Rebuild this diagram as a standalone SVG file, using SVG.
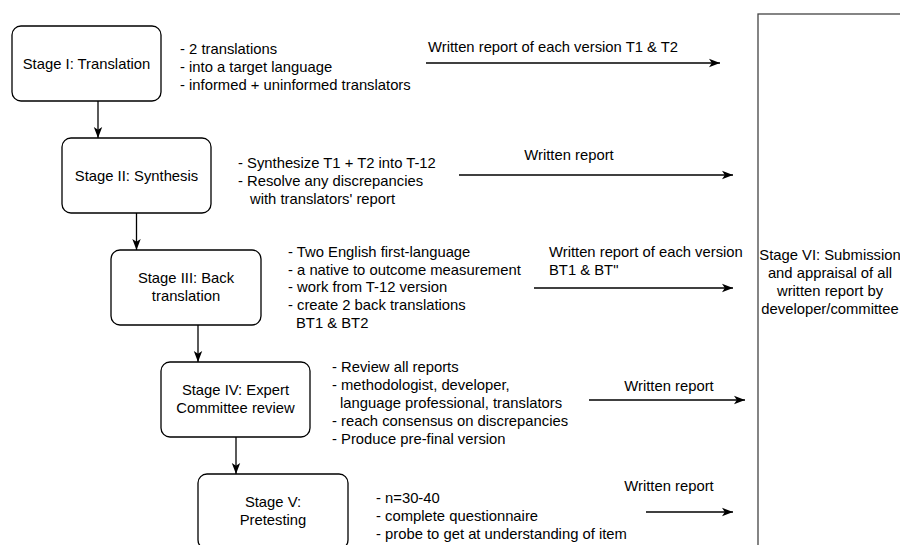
<svg xmlns="http://www.w3.org/2000/svg" width="900" height="545" viewBox="0 0 900 545">
<defs>
<marker id="ah" markerUnits="userSpaceOnUse" markerWidth="12" markerHeight="10" refX="11" refY="5" orient="auto">
<path d="M0,0.8 L11,5 L0,9.2 L2.8,5 Z" fill="#000"/>
</marker>
<style>
text{font-family:"Liberation Sans",Arial,sans-serif;font-size:14.8px;fill:#000}
.c{text-anchor:middle}
.box{fill:#fff;stroke:#000;stroke-width:1.3}
.con line{stroke:#000;stroke-width:1.3;marker-end:url(#ah)}
</style>
</defs>
<rect width="900" height="545" fill="#fff"/>
<g id="stage6">
<rect x="758" y="14" width="150" height="545" fill="#fff" stroke="#444" stroke-width="1.3"/>
<text class="c" x="830" y="260">Stage VI: Submission</text>
<text class="c" x="830" y="278">and appraisal of all</text>
<text class="c" x="830" y="296">written report by</text>
<text class="c" x="830" y="314">developer/committee</text>
</g>
<g id="stage1">
<rect class="box" x="12" y="26" width="149" height="75" rx="9"/>
<text class="c" x="86.5" y="69">Stage I: Translation</text>
</g>
<g id="notes1">
<text x="180" y="54">- 2 translations</text>
<text x="180" y="72">- into a target language</text>
<text x="180" y="90">- informed + uninformed translators</text>
</g>
<g id="stage2">
<rect class="box" x="62" y="138" width="149" height="75" rx="9"/>
<text class="c" x="136.5" y="181">Stage II: Synthesis</text>
</g>
<g id="notes2">
<text x="238" y="168">- Synthesize T1 + T2 into T-12</text>
<text x="238" y="186">- Resolve any discrepancies</text>
<text x="250" y="204">with translators' report</text>
</g>
<g id="stage3">
<rect class="box" x="111" y="250" width="150" height="75" rx="9"/>
<text class="c" x="186" y="283">Stage III: Back</text>
<text class="c" x="186" y="301">translation</text>
</g>
<g id="notes3">
<text x="288" y="257">- Two English first-language</text>
<text x="288" y="275">- a native to outcome measurement</text>
<text x="288" y="292">- work from T-12 version</text>
<text x="288" y="310">- create 2 back translations</text>
<text x="296" y="328">BT1 &amp; BT2</text>
</g>
<g id="stage4">
<rect class="box" x="161" y="362" width="149" height="75" rx="9"/>
<text class="c" x="235.5" y="395">Stage IV: Expert</text>
<text class="c" x="235.5" y="413">Committee review</text>
</g>
<g id="notes4">
<text x="332" y="372">- Review all reports</text>
<text x="332" y="390">- methodologist, developer,</text>
<text x="340" y="408">language professional, translators</text>
<text x="332" y="426">- reach consensus on discrepancies</text>
<text x="332" y="444">- Produce pre-final version</text>
</g>
<g id="stage5">
<rect class="box" x="198" y="474" width="150" height="75" rx="9"/>
<text class="c" x="273" y="507">Stage V:</text>
<text class="c" x="273" y="525">Pretesting</text>
</g>
<g id="notes5">
<text x="376" y="503">- n=30-40</text>
<text x="376" y="521">- complete questionnaire</text>
<text x="376" y="539">- probe to get at understanding of item</text>
</g>
<g id="connectors" class="con">
<line x1="98" y1="101" x2="98" y2="138"/>
<line x1="136.5" y1="213" x2="136.5" y2="250"/>
<line x1="198" y1="325" x2="198" y2="362"/>
<line x1="236" y1="437" x2="236" y2="474"/>
<line x1="426" y1="63" x2="720" y2="63"/>
<line x1="459" y1="175" x2="733" y2="175"/>
<line x1="534" y1="288" x2="733" y2="288"/>
<line x1="589" y1="400" x2="745" y2="400"/>
<line x1="646" y1="512" x2="733" y2="512"/>
</g>
<g id="labels">
<text x="428" y="52">Written report of each version T1 &amp; T2</text>
<text class="c" x="569" y="160">Written report</text>
<text x="549" y="257">Written report of each version</text>
<text x="549" y="275">BT1 &amp; BT"</text>
<text class="c" x="669" y="391">Written report</text>
<text class="c" x="669" y="491">Written report</text>
</g>
</svg>
